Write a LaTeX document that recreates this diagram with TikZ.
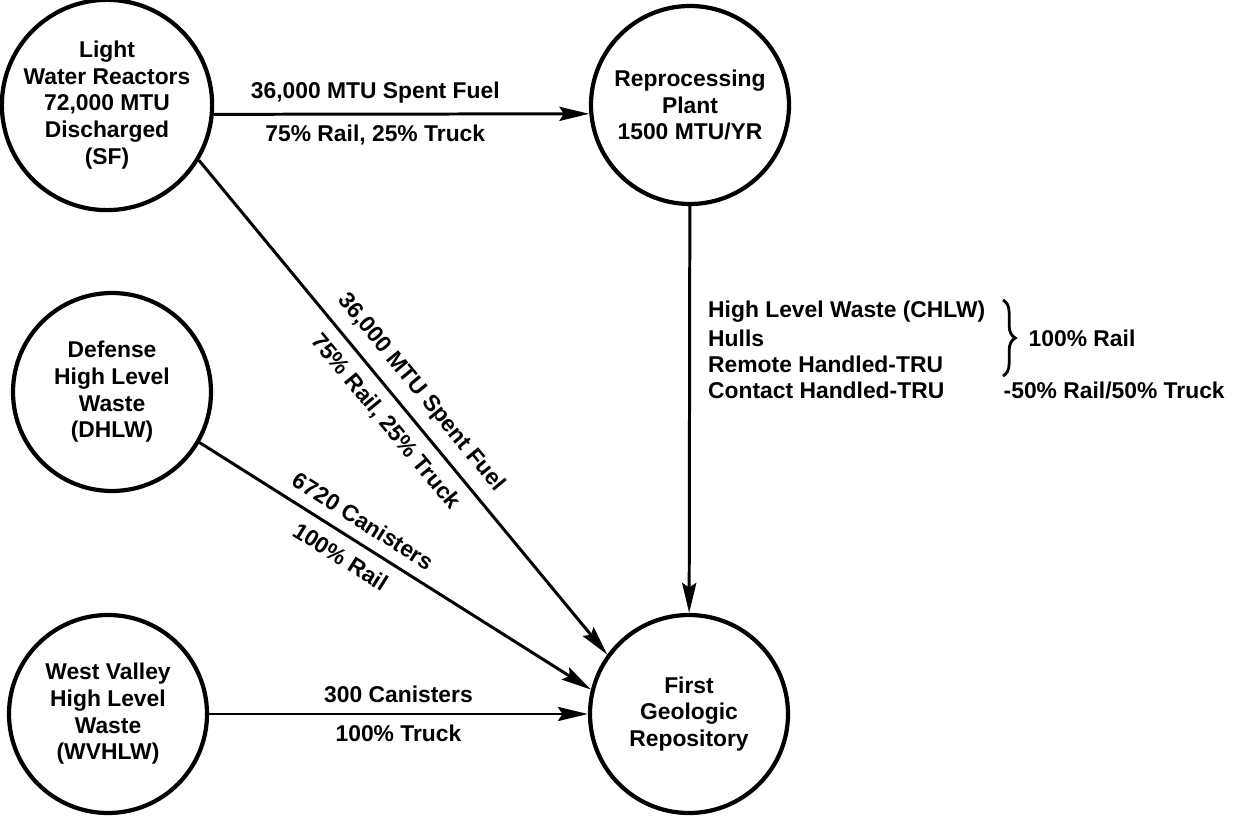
\documentclass[tikz,border=0pt]{standalone}
\usepackage{fontspec}
\setmainfont{Liberation Sans}
\usetikzlibrary{arrows.meta,decorations.pathreplacing}

\begin{document}
\begin{tikzpicture}[
  every node/.style={font=\fontsize{13}{15.2}\selectfont\bfseries},
  station/.style={circle, draw, line width=2.4pt, minimum size=3.96cm, inner sep=0pt, align=center},
  flow/.style={line width=1.7pt, -{Stealth[length=17pt,width=8pt,inset=2.5pt]}},
  ]
  \useasboundingbox (0,0) rectangle (24.8,16.3);

  %--- Sites ---
  \node[station] (lwr)  at (2.14,14.2)  {Light\\Water Reactors\\72,000 MTU\\Discharged\\(SF)};
  \node[station] (rep)  at (13.8,14.2)  {Reprocessing\\Plant\\1500 MTU/YR};
  \node[station] (dhlw) at (2.24,8.46)  {Defense\\High Level\\Waste\\(DHLW)};
  \node[station] (wv)   at (2.16,2.02)  {West Valley\\High Level\\Waste\\(WVHLW)};
  \node[station] (geo)  at (13.78,2.02) {First\\Geologic\\Repository};

  %--- Shipments ---
  \draw[flow] (lwr.-5) -- (rep.185)
    node[pos=0.43, above=2pt] (sfup) {36,000 MTU Spent Fuel}
    node[pos=0.43, below=2pt] (sfdn) {75\% Rail, 25\% Truck};
  \draw[flow] (lwr.-31) -- (geo.144)
    node[pos=0.5, sloped, above=3pt] (sfup2) {36,000 MTU Spent Fuel}
    node[pos=0.5, sloped, below=3pt] (sfdn2) {75\% Rail, 25\% Truck};
  \draw[flow] (dhlw.-30) -- (geo.166)
    node[pos=0.39, sloped, above=3pt] (dhup) {6720 Canisters}
    node[pos=0.39, sloped, below=3pt] (dhdn) {100\% Rail};
  \draw[flow] (wv) -- (geo)
    node[pos=0.5, above=2pt] (wvup) {300 Canisters}
    node[pos=0.5, below=2pt] (wvdn) {100\% Truck};
  \draw[flow] (rep) -- (geo);

  %--- Reprocessing wastes ---
  \node[anchor=west] (hlw)   at (14.04,10.06) {High Level Waste (CHLW)};
  \node[anchor=west] (hulls) at (14.04,9.54)  {Hulls};
  \node[anchor=west] (rhtru) at (14.04,9.02)  {Remote Handled-TRU};
  \node[anchor=west] (chtru) at (14.04,8.5)   {Contact Handled-TRU};
  \coordinate (brtop) at (20.06,10.3);
  \coordinate (brbot) at (20.06,8.78);
  \draw[line width=1.6pt, decorate, decoration={brace, amplitude=7pt}] (brtop) -- (brbot);
  \node[anchor=west] (rail) at (20.45,9.54) {100\% Rail};
  \node[anchor=west] (mix)  at (19.95,8.5)  {-50\% Rail/50\% Truck};

\end{tikzpicture}
\end{document}
